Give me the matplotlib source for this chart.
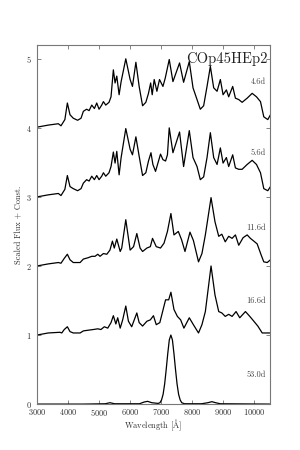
import matplotlib
matplotlib.use("Agg")
import matplotlib.pyplot as plt

plt.rcParams["font.family"] = "serif"
plt.rcParams["font.serif"] = ["cmr10", "DejaVu Serif"]
plt.rcParams["mathtext.fontset"] = "cm"
plt.rcParams["axes.unicode_minus"] = False
plt.rcParams["axes.formatter.use_mathtext"] = True

model_name = "COp45HEp2"
epochs = ["4.6d", "5.6d", "11.6d", "16.6d", "53.0d"]
label_flux = [4.67, 3.64, 2.55, 1.49, 0.43]

wl_46 = [3000, 3365, 3690, 3775, 3900, 3980, 4065, 4170, 4310, 4420, 4495,
         4600, 4680, 4765, 4850, 4925, 5000, 5085, 5140, 5215, 5320, 5385,
         5460, 5515, 5570, 5645, 5710, 5860, 6000, 6075, 6185, 6290, 6400,
         6505, 6590, 6660, 6710, 6774, 6861, 6945, 7055, 7129, 7258, 7377,
         7590, 7720, 7903, 8023, 8152, 8258, 8365, 8474, 8581, 8688, 8797,
         8903, 8990, 9097, 9171, 9300, 9387, 9494, 9603, 9765, 9926, 10065,
         10194, 10300, 10429, 10516]
flux_46 = [4.01, 4.04, 4.06, 4.03, 4.12, 4.36, 4.19, 4.14, 4.11, 4.14, 4.24,
           4.27, 4.25, 4.33, 4.28, 4.36, 4.27, 4.33, 4.38, 4.33, 4.37, 4.45,
           4.84, 4.65, 4.75, 4.48, 4.67, 5.00, 4.70, 4.60, 4.95, 4.60, 4.32,
           4.37, 4.50, 4.65, 4.48, 4.70, 4.53, 4.70, 4.60, 4.72, 4.99, 4.67,
           4.94, 4.66, 4.96, 4.58, 4.41, 4.27, 4.32, 4.60, 4.89, 4.58, 4.53,
           4.70, 4.48, 4.55, 4.45, 4.60, 4.43, 4.41, 4.37, 4.43, 4.50, 4.45,
           4.38, 4.16, 4.12, 4.19]

wl_56 = [3000, 3365, 3690, 3775, 3900, 3980, 4065, 4170, 4310, 4420, 4495,
         4600, 4680, 4765, 4850, 4925, 5000, 5085, 5140, 5215, 5320, 5385,
         5460, 5515, 5570, 5645, 5710, 5860, 6000, 6075, 6185, 6290, 6400,
         6505, 6590, 6670, 6732, 6817, 6977, 7055, 7140, 7200, 7258, 7377,
         7590, 7720, 7903, 8023, 8152, 8258, 8365, 8474, 8581, 8688, 8797,
         8903, 8990, 9097, 9171, 9300, 9387, 9494, 9603, 9765, 9926, 10065,
         10194, 10300, 10429, 10516]
flux_56 = [3.00, 3.03, 3.05, 3.02, 3.11, 3.31, 3.15, 3.12, 3.09, 3.12, 3.20,
           3.25, 3.23, 3.30, 3.25, 3.31, 3.25, 3.30, 3.35, 3.30, 3.35, 3.44,
           3.65, 3.49, 3.66, 3.32, 3.57, 3.99, 3.69, 3.61, 3.87, 3.59, 3.31,
           3.35, 3.52, 3.64, 3.47, 3.37, 3.62, 3.54, 3.52, 3.61, 4.00, 3.64,
           3.94, 3.44, 3.96, 3.57, 3.44, 3.25, 3.29, 3.57, 3.93, 3.57, 3.47,
           3.71, 3.49, 3.57, 3.44, 3.61, 3.42, 3.40, 3.40, 3.47, 3.53, 3.47,
           3.35, 3.12, 3.09, 3.15]

wl_116 = [3000, 3365, 3690, 3775, 3880, 3980, 4065, 4170, 4390, 4495, 4650,
          4765, 4870, 4960, 5030, 5140, 5250, 5350, 5430, 5490, 5570, 5680,
          5730, 5860, 6000, 6110, 6215, 6320, 6400, 6540, 6650, 6720, 6790,
          6840, 6977, 7090, 7200, 7312, 7410, 7550, 7655, 7765, 7925, 8035,
          8200, 8310, 8420, 8603, 8730, 8850, 8950, 9060, 9171, 9280, 9387,
          9494, 9635, 9765, 9870, 9980, 10087, 10215, 10300, 10410, 10516]
flux_116 = [2.00, 2.03, 2.05, 2.04, 2.11, 2.17, 2.09, 2.05, 2.05, 2.10, 2.12,
            2.14, 2.14, 2.17, 2.14, 2.18, 2.17, 2.23, 2.36, 2.26, 2.39, 2.21,
            2.26, 2.67, 2.23, 2.28, 2.47, 2.26, 2.21, 2.26, 2.28, 2.40, 2.33,
            2.28, 2.26, 2.33, 2.50, 2.76, 2.45, 2.50, 2.38, 2.21, 2.49, 2.37,
            2.06, 2.18, 2.45, 2.99, 2.64, 2.43, 2.46, 2.35, 2.43, 2.40, 2.45,
            2.30, 2.41, 2.45, 2.40, 2.36, 2.32, 2.16, 2.06, 2.05, 2.09]

wl_166 = [3000, 3365, 3740, 3800, 3880, 3980, 4065, 4170, 4390, 4495, 4650,
          4815, 4960, 5060, 5170, 5280, 5385, 5460, 5540, 5600, 5680, 5760,
          5860, 5945, 6050, 6215, 6290, 6400, 6540, 6650, 6750, 6840, 6955,
          7140, 7240, 7312, 7410, 7520, 7625, 7730, 7903, 8035, 8200, 8310,
          8420, 8603, 8730, 8850, 8950, 9060, 9171, 9280, 9408, 9527, 9710,
          9850, 9980, 10108, 10250, 10516]
flux_166 = [1.00, 1.03, 1.04, 1.03, 1.08, 1.12, 1.05, 1.03, 1.03, 1.06, 1.07,
            1.08, 1.09, 1.08, 1.12, 1.10, 1.18, 1.28, 1.16, 1.25, 1.10, 1.22,
            1.42, 1.20, 1.12, 1.32, 1.18, 1.13, 1.20, 1.22, 1.28, 1.15, 1.18,
            1.51, 1.51, 1.62, 1.37, 1.27, 1.22, 1.10, 1.25, 1.15, 1.03, 1.15,
            1.34, 2.00, 1.58, 1.34, 1.32, 1.27, 1.30, 1.27, 1.34, 1.25, 1.34,
            1.27, 1.20, 1.13, 1.03, 1.03]

wl_530 = [3000, 4500, 5200, 5350, 5500, 6300, 6450, 6560, 6700, 6900, 6960,
          7010, 7060, 7110, 7160, 7210, 7260, 7310, 7360, 7410, 7460, 7510,
          7560, 7610, 7660, 7750, 8300, 8500, 8630, 8750, 8900, 10516]
flux_530 = [0.0, 0.0, 0.005, 0.02, 0.005, 0.005, 0.03, 0.04, 0.02, 0.01, 0.02,
            0.06, 0.14, 0.29, 0.50, 0.73, 0.93, 1.00, 0.93, 0.73, 0.50, 0.29,
            0.14, 0.06, 0.02, 0.005, 0.005, 0.02, 0.035, 0.02, 0.005, 0.0]

spectra = [(wl_46, flux_46), (wl_56, flux_56), (wl_116, flux_116),
           (wl_166, flux_166), (wl_530, flux_530)]


def main():
    fig = plt.figure(figsize=(3.0, 4.5), dpi=100)
    ax = fig.add_axes([0.123, 0.102, 0.777, 0.798])

    for (wl, flux), epoch, ly in zip(spectra, epochs, label_flux):
        ax.plot(wl, flux, color="black", lw=0.9)
        ax.text(10380, ly, epoch, ha="right", va="center", fontsize=6,
                color="#444444")

    ax.text(0.99, 0.962, model_name, transform=ax.transAxes, ha="right",
            va="center", fontsize=10.5, color="#222222")

    ax.set_xlim(3000, 10500)
    ax.set_ylim(0, 5.2)
    ax.set_xticks(range(3000, 10001, 1000))
    ax.set_yticks(range(0, 6))
    ax.tick_params(direction="in", top=True, right=True, labelsize=6,
                   length=3, width=0.5, colors="#555555", labelcolor="#333333")
    ax.tick_params(axis="x", pad=2)
    for spine in ax.spines.values():
        spine.set_color("#777777")
        spine.set_linewidth(0.8)
    ax.set_xlabel(r"Wavelength [$\mathrm{\AA}$]", fontsize=6, labelpad=0,
                  color="#333333")
    ax.set_ylabel("Scaled Flux + Const.", fontsize=6, labelpad=2,
                  color="#333333")

    fig.savefig("out.png", dpi=100)


if __name__ == "__main__":
    main()
